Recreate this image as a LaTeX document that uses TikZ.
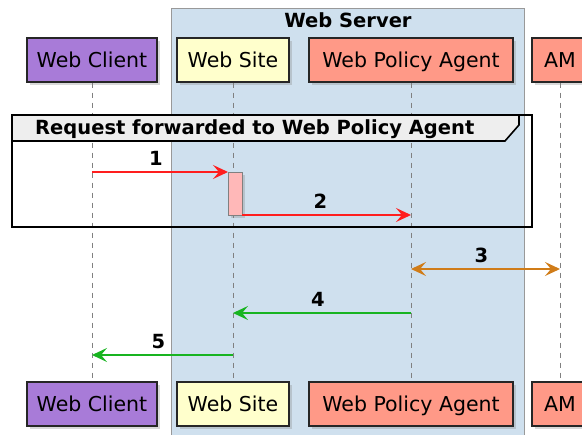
\documentclass[tikz,border=0pt]{standalone}
\usepackage{fontspec}
\setmainfont{DejaVu Sans}
\usetikzlibrary{arrows.meta,shadows}

\definecolor{clientfill}{RGB}{168,123,216}
\definecolor{sitefill}{RGB}{255,255,204}
\definecolor{agentfill}{RGB}{255,153,135}
\definecolor{serverfill}{RGB}{207,224,238}
\definecolor{headfill}{RGB}{238,238,238}
\definecolor{actfill}{RGB}{255,184,184}
\definecolor{msgred}{RGB}{255,30,30}
\definecolor{msgorange}{RGB}{208,124,24}
\definecolor{msggreen}{RGB}{24,180,32}

\tikzset{seqtip/.tip={Stealth[length=15pt, width=14pt, inset=6pt]}}

\begin{document}
\begin{tikzpicture}[
          x=1pt, y=-1pt,
          actor/.style={draw=black!85, line width=1.3pt, minimum height=44pt, inner sep=0pt,
                        text height=15pt, text depth=0pt,
                        font=\fontsize{20.5}{22}\selectfont,
                        drop shadow={opacity=0.3, shadow xshift=3pt, shadow yshift=-3pt}},
          lifeline/.style={draw=gray, line width=0.9pt, dash pattern=on 5pt off 5pt},
          msg/.style={-seqtip, line width=1.3pt},
          num/.style={font=\fontsize{19.5}{20}\bfseries\selectfont, inner sep=0pt}
        ]
        \useasboundingbox (0,0) rectangle (582,435);

        % the web server box
        \draw[fill=serverfill, draw=gray!80, line width=1pt] (171,9) rectangle (524,436);
        \node[num] (server) at (348,20) {Web Server};

        % participants, top and bottom
        \node[actor, fill=clientfill, minimum width=130pt] (client) at (92,60) {Web Client};
        \node[actor, fill=sitefill, minimum width=112pt] (site) at (233,60) {Web Site};
        \node[actor, fill=agentfill, minimum width=204pt] (agent) at (411,60) {Web Policy Agent};
        \node[actor, fill=agentfill, minimum width=56pt] (am) at (560,60) {AM};

        \node[actor, fill=clientfill, minimum width=130pt] (clientB) at (92,404) {Web Client};
        \node[actor, fill=sitefill, minimum width=112pt] (siteB) at (233,404) {Web Site};
        \node[actor, fill=agentfill, minimum width=204pt] (agentB) at (411,404) {Web Policy Agent};
        \node[actor, fill=agentfill, minimum width=56pt] (amB) at (560,404) {AM};

        % lifelines
        \draw[lifeline] (client) -- (clientB);
        \draw[lifeline] (site) -- (siteB);
        \draw[lifeline] (agent) -- (agentB);
        \draw[lifeline] (am) -- (amB);

        % the group frame
        \draw[line width=2pt] (12,115) rectangle (532,227);
        \draw[line width=1.6pt, fill=headfill] (12,115) -- (519,115) -- (519,125) -- (505,141) -- (12,141) -- cycle;
        \node[num, anchor=west] (group) at (35,129) {Request forwarded to Web Policy Agent};

        % activation on the web site
        \node[draw=gray, fill=actfill, line width=0.8pt, outer sep=0pt, minimum width=14pt, minimum height=43pt, inner sep=0pt,
              drop shadow={opacity=0.3, shadow xshift=3pt, shadow yshift=-3pt}] (act) at (235,193.5) {};

        % messages
        \draw[msg, msgred] (client |- act.north) -- (act.north west)
            node[num, midway, above=6pt, xshift=-4pt, text=black] {1};
        \draw[msg, msgred] (act.south east) -- (agent |- act.south)
            node[num, midway, above=6pt, xshift=-6pt, text=black] {2};
        \draw[msg, seqtip-seqtip, msgorange] (agent |- 0,269) -- (am |- 0,269)
            node[num, midway, above=6pt, xshift=-4pt, text=black] {3};
        \draw[msg, msggreen] (agent |- 0,313) -- (site |- 0,313)
            node[num, midway, above=6pt, xshift=-4pt, text=black] {4};
        \draw[msg, msggreen] (site |- 0,355) -- (client |- 0,355)
            node[num, midway, above=6pt, xshift=-4pt, text=black] {5};

        \end{tikzpicture}
\end{document}
